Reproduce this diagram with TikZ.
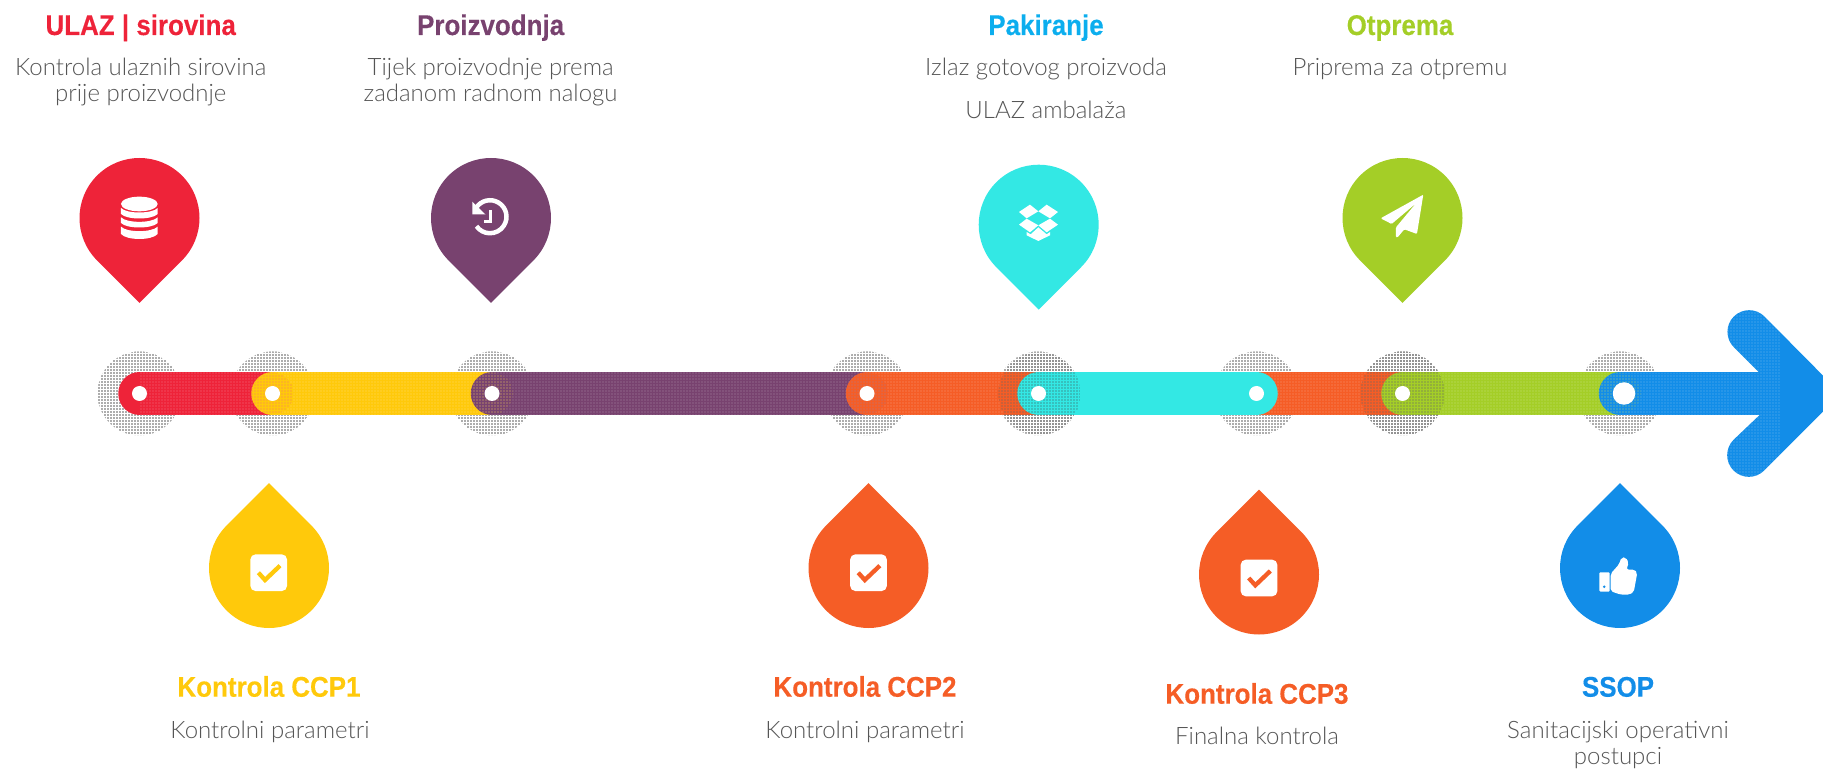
\documentclass[tikz,border=0pt]{standalone}
\usepackage{fontspec}
\setmainfont{Liberation Sans}
\newfontfamily\headf{Liberation Sans}[FakeStretch=0.91,BoldFeatures={FakeBold=0.3}]
\newfontfamily\subf{Lato}[UprightFont=* Light]
\usetikzlibrary{patterns.meta}
\definecolor{cred}{HTML}{EE2339}
\definecolor{cpur}{HTML}{78426F}
\definecolor{ccya}{HTML}{33E8E4}
\definecolor{chead}{HTML}{0CAEEE}
\definecolor{cgre}{HTML}{A4CE27}
\definecolor{cyel}{HTML}{FFC90B}
\definecolor{cora}{HTML}{F55D26}
\definecolor{cblu}{HTML}{128DE8}
\definecolor{csub}{HTML}{555555}
\tikzset{
  head/.style={font=\headf\fontsize{28.5}{30}\bfseries\selectfont,inner sep=0pt,anchor=base},
  sub/.style={font=\subf\fontsize{24}{25}\selectfont,text=csub,inner sep=0pt,anchor=base},
  bandline/.style={line width=42.5pt,line cap=round},
  halo/.style={pattern={Dots[distance=3pt,radius=.8pt]},pattern color=black!65},
  haloT/.style={pattern={Dots[distance=3pt,radius=.65pt]},pattern color=black!75},
  shine/.style={pattern={Dots[distance=3pt,radius=.7pt]},pattern color=white,opacity=.38},
  holeA/.style={pattern={Dots[distance=3pt,radius=.7pt]},pattern color=#1,opacity=.6},
  hub/.style={circle,fill=white,inner sep=0pt,minimum size=15pt},
  ico/.style={fill=white,draw=none}
}
\newcommand{\pinD}[3]{\fill[#3] (#1,769-#2) ++(-45:60) arc[start angle=-45,end angle=225,radius=60] -- (#1,769-#2-84.85) -- cycle;}
\newcommand{\pinU}[3]{\fill[#3] (#1,769-#2) ++(45:60) arc[start angle=45,end angle=-225,radius=60] -- (#1,769-#2+84.85) -- cycle;}
\begin{document}
\begin{tikzpicture}[x=1pt,y=1pt]
\useasboundingbox (0,0) rectangle (1823,769);
% stations
\coordinate (d1) at (139.5,375.5);
\coordinate (d2) at (272.5,375.5);
\coordinate (d3) at (492,375.5);
\coordinate (d4) at (867,375.5);
\coordinate (d5) at (1038.5,375.5);
\coordinate (d6) at (1256.5,375.5);
\coordinate (d7) at (1402.5,375.5);
\coordinate (d8) at (1620,375.5);
\coordinate (d8h) at (1790,375.5);
% halos below the bands
\foreach \c in {d1,d2,d3,d4,d5,d6,d7,d8}{\fill[halo] (\c) circle (42);}
% bands
\draw[bandline,cred] (d1) -- (d2);
\draw[bandline,cyel] (d2) -- (d3);
\draw[bandline,cpur] (d3) -- (d4);
\draw[bandline,cora] (d4) -- (d7);
\draw[bandline,cgre] (d7) -- (d8);
\draw[bandline,cblu] (d8) -- (d8h);
% arrow head
\fill[cblu] (1733.8,769-347.2) arc[start angle=225,end angle=45,radius=21.7] -- (1823,769-375.6) -- (1823,769-411.6) -- (1764.2,769-470.5) arc[start angle=-45,end angle=-225,radius=21.7] -- (1759.6,769-415) -- (1759.6,769-373) -- cycle;
% halftone over the bands
\fill[shine] (d1) ++(0,-21) rectangle ([yshift=21pt]d6);
\begin{scope}
\clip (1256,0) rectangle (1780,769);
\fill[shine] (1256,769-373) -- (1759.6,769-373) -- (1733.8,769-347.2) arc[start angle=225,end angle=45,radius=21.7] -- (1823,769-375.6) -- (1823,769-411.6) -- (1764.2,769-470.5) arc[start angle=-45,end angle=-225,radius=21.7] -- (1759.6,769-415) -- (1256,769-415) -- cycle;
\end{scope}
% band caps showing through
\fill[holeA=cred] (d2) circle (21);
\fill[holeA=cyel] (d3) circle (21);
\fill[holeA=cpur] (d4) circle (21);
\fill[holeA=cgre] (d8) circle (21);
\draw[bandline,ccya] (d5) -- (d6);
% halos above the bands
\fill[haloT] (1039.5,375.5) circle (41);
\fill[haloT] (d7) circle (42);
% hubs
\node[hub] (h1) at (d1) {};
\node[hub] (h2) at (d2) {};
\node[hub] (h3) at (d3) {};
\node[hub] (h4) at (d4) {};
\node[hub] (h5) at (d5) {};
\node[hub] (h6) at (d6) {};
\node[hub] (h7) at (d7) {};
\node[hub,minimum size=22.5pt] (h8) at (1624,375.5) {};
% pins
\pinD{139.5}{218}{cred}
\pinD{491}{218}{cpur}
\pinD{1038.7}{224.7}{ccya}
\pinD{1402.5}{218}{cgre}
\pinU{269}{568}{cyel}
\pinU{868.5}{568}{cora}
\pinU{1259}{574.5}{cora}
\pinU{1620}{568}{cblu}
% database icon
\begin{scope}[shift={(60,769-140)},x=.3333pt,y=-.3333pt]
\fill[ico] (238,192) ellipse [x radius=55,y radius=22];
\fill[ico] (183,204) .. controls (200,222) and (276,222) .. (293,204) -- (293,222) .. controls (276,240) and (200,240) .. (183,222) -- cycle;
\fill[ico] (183,232) .. controls (200,250) and (276,250) .. (293,232) -- (293,249) .. controls (276,267) and (200,267) .. (183,249) -- cycle;
\fill[ico] (183,260) .. controls (200,278) and (276,278) .. (293,260) -- (293,282) .. controls (276,302) and (200,302) .. (183,282) -- cycle;
\end{scope}
% history icon
\draw[white,line width=4.5pt] (476,769-208) arc[start angle=148,end angle=-145,radius=16.5];
\fill[white] (472.3,769-201.7) -- (472.3,769-214.5) -- (485.5,769-214.5) -- cycle;
\draw[white,line width=2.6pt] (490.7,769-210.5) -- (490.7,769-221.5) -- (483.5,769-221.5);
% dropbox icon
\begin{scope}[shift={(960,769-140)},x=.3333pt,y=-.3333pt]
\fill[ico] (177,216) -- (210,194) -- (235,214) -- (200,235) -- cycle;
\fill[ico] (294,216) -- (260,194) -- (235,214) -- (270,235) -- cycle;
\fill[ico] (177,254) -- (200,236) -- (235,256) -- (210,277) -- cycle;
\fill[ico] (294,254) -- (270,236) -- (235,256) -- (260,277) -- cycle;
\fill[ico] (200,276) -- (212,283) -- (235,262) -- (260,283) -- (270,276) -- (270,286) -- (235,303) -- (200,286) -- cycle;
% paper plane icon
\fill[ico,rounded corners=1pt] (1262,235) -- (1390,164) -- (1371,282) -- (1333,268) -- (1313,292) -- (1308,292) -- (1308,262) -- (1368,190) -- (1295,252) -- cycle;
\end{scope}
% check icons
\foreach \cx/\cy/\col in {268.7/572.7/cyel,868.5/572.7/cora,1259/578/cora}{
  \begin{scope}[shift={(\cx,769-\cy)},y=-1pt]
  \fill[ico,rounded corners=5pt] (-18.3,-18.3) rectangle (18.3,18.3);
  \draw[\col,line width=4.3pt] (-10.3,0) -- (-3.7,7.3) -- (11.3,-7);
  \end{scope}
}
% thumb icon
\begin{scope}[shift={(1180,769-480)},x=.3443pt,y=-.3443pt]
\fill[ico,rounded corners=1pt] (1218,268) rectangle (1248,324);
\fill[cblu] (1232,310) circle (4);
\fill[ico,rounded corners=2pt] (1251,272) -- (1275,245) -- (1282,225) -- (1295,225) -- (1303,240) -- (1297,260) -- (1320,260) -- (1328,270) -- (1318,325) -- (1305,333) -- (1280,333) -- (1251,323) -- cycle;
\end{scope}
% texts
\node[head,text=cred] (t1) at (140.7,769-35) {ULAZ | sirovina};
\node[sub] (t1a) at (140.7,769-75.5) {Kontrola ulaznih sirovina};
\node[sub] (t1b) at (140.7,769-102) {prije proizvodnje};
\node[head,text=cpur] (t2) at (490.6,769-35) {Proizvodnja};
\node[sub] (t2a) at (490.6,769-75.5) {Tijek proizvodnje prema};
\node[sub] (t2b) at (490.6,769-102) {zadanom radnom nalogu};
\node[head,text=chead] (t3) at (1046,769-35) {Pakiranje};
\node[sub] (t3a) at (1046,769-75.5) {Izlaz gotovog proizvoda};
\node[sub] (t3b) at (1046,769-118.5) {ULAZ ambalaža};
\node[head,text=cgre] (t4) at (1400,769-35) {Otprema};
\node[sub] (t4a) at (1400,769-75.5) {Priprema za otpremu};
\node[head,text=cyel] (t5) at (269,769-696.7) {Kontrola CCP1};
\node[sub] (t5a) at (270,769-738.3) {Kontrolni parametri};
\node[head,text=cora] (t6) at (865,769-696.7) {Kontrola CCP2};
\node[sub] (t6a) at (865,769-738.3) {Kontrolni parametri};
\node[head,text=cora] (t7) at (1257,769-703.7) {Kontrola CCP3};
\node[sub] (t7a) at (1257,769-744) {Finalna kontrola};
\node[head,text=cblu] (t8) at (1618,769-696.7) {SSOP};
\node[sub] (t8a) at (1618,769-738.3) {Sanitacijski operativni};
\node[sub] (t8b) at (1618,769-764) {postupci};
\end{tikzpicture}
\end{document}
